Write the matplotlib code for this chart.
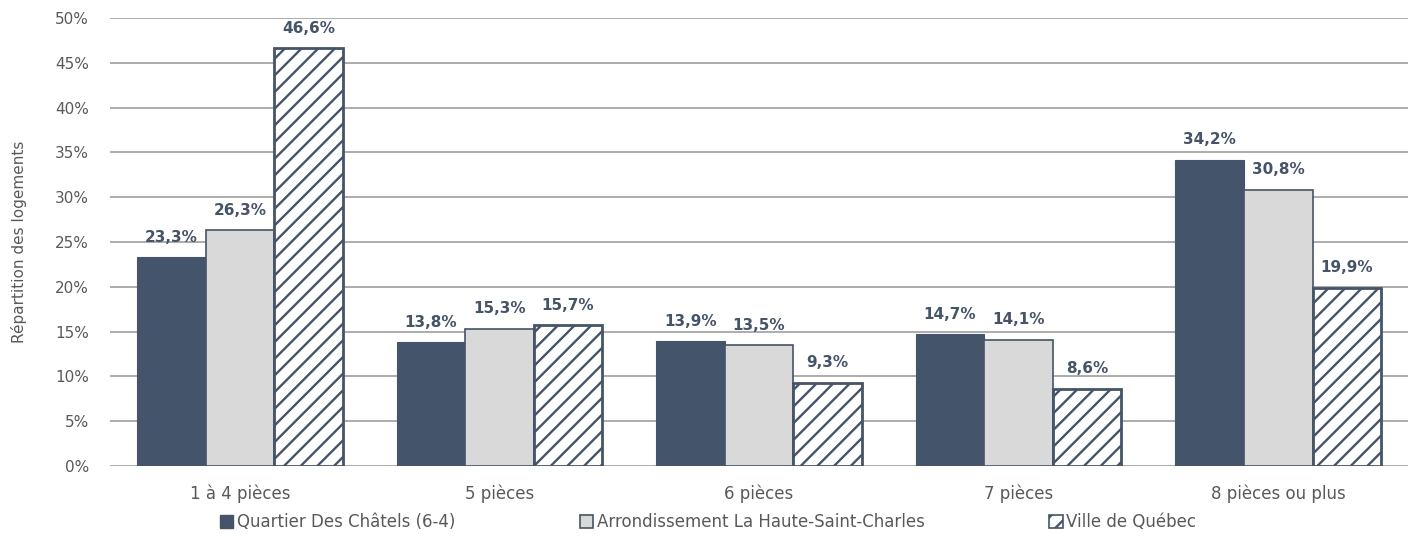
import numpy as np
import matplotlib
matplotlib.use("Agg")
import matplotlib.pyplot as plt
from matplotlib.patches import Patch

plt.rcParams['font.family'] = ['DejaVu Sans']
plt.rcParams['hatch.linewidth'] = 1.7

# Données
categories = ["1 à 4 pièces", "5 pièces", "6 pièces", "7 pièces", "8 pièces ou plus"]
series_names = ["Quartier Des Châtels (6-4)", "Arrondissement La Haute-Saint-Charles", "Ville de Québec"]
quartier = [23.3, 13.8, 13.9, 14.7, 34.2]
arrondissement = [26.3, 15.3, 13.5, 14.1, 30.8]
ville = [46.6, 15.7, 9.3, 8.6, 19.9]

dark = "#44546A"
light = "#D9D9D9"
text_gray = "#595959"

fig = plt.figure(figsize=(14.16, 5.44), dpi=100)
ax = fig.add_axes([0.0777, 0.1434, 0.9167, 0.8236])

x = np.arange(len(categories))
w = 0.264

b1 = ax.bar(x - w, quartier, w, color=dark, edgecolor=dark, linewidth=0.8, zorder=3)
b2 = ax.bar(x, arrondissement, w, color=light, edgecolor=dark, linewidth=1.2, zorder=3)
b3 = ax.bar(x + w, ville, w, color="white", edgecolor=dark, hatch="//", linewidth=2, zorder=3)

# Étiquettes
for bars, vals in [(b1, quartier), (b2, arrondissement), (b3, ville)]:
    for rect, v in zip(bars, vals):
        ax.annotate(f"{v:.1f}%".replace(".", ","),
                    (rect.get_x() + rect.get_width() / 2, v),
                    xytext=(0, 9), textcoords="offset points",
                    ha="center", va="bottom", fontsize=11, fontweight="bold", color=dark)

ax.set_ylim(0, 50)
ax.set_xlim(-0.5, len(categories) - 0.5)
ax.set_yticks(np.arange(0, 51, 5))
ax.set_yticklabels([f"{t}%" for t in range(0, 51, 5)])
ax.set_xticks(x)
ax.set_xticklabels(categories)
ax.tick_params(axis="both", length=0, colors=text_gray)
ax.tick_params(axis="y", labelsize=11, pad=15)
ax.tick_params(axis="x", labelsize=12, pad=13)
ax.grid(axis="y", color="#A6A6A6", linewidth=1.3, zorder=0)
for s in ax.spines.values():
    s.set_visible(False)

ax.set_ylabel("Répartition des logements", fontsize=11, color=text_gray, labelpad=20)

handles = [Patch(facecolor=dark, edgecolor=dark),
           Patch(facecolor=light, edgecolor=dark, linewidth=1.2),
           Patch(facecolor="white", edgecolor=dark, hatch="//", linewidth=1.2)]
fig.legend(handles, series_names, loc="center", bbox_to_anchor=(0.5, 0.04), ncol=3,
           frameon=False, fontsize=12, handlelength=0.8, handleheight=0.8,
           handletextpad=0.2, columnspacing=7.5, labelcolor=text_gray)

fig.savefig("out.png", dpi=100)
